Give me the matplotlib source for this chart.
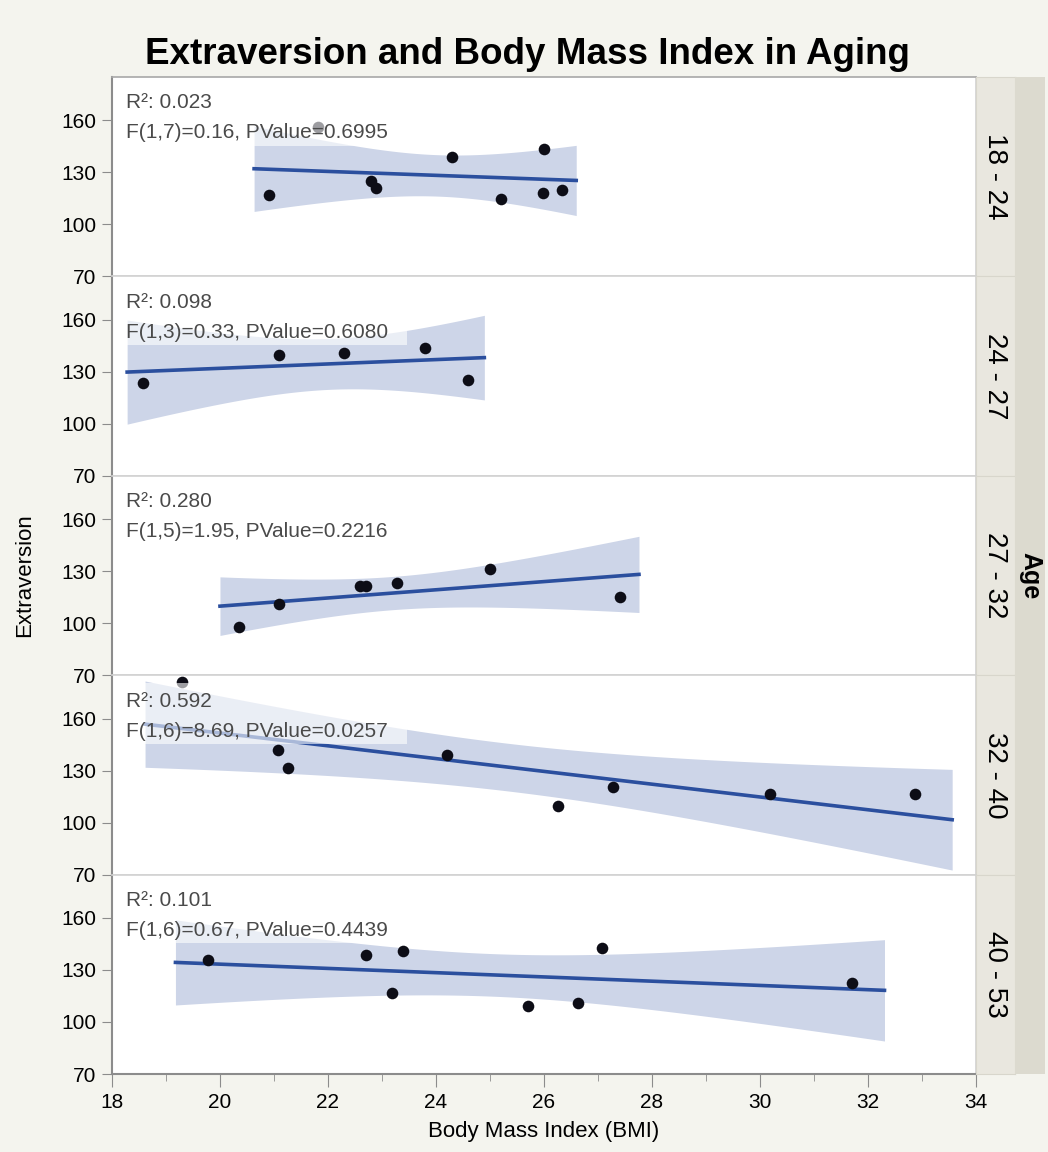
import numpy as np
import matplotlib.pyplot as plt
from matplotlib.patches import Rectangle
from matplotlib.ticker import MultipleLocator

# BMI vs extraversion, split by age group
age_groups = ['18 - 24', '24 - 27', '27 - 32', '32 - 40', '40 - 53']

bmi_18_24 = [20.91, 21.83, 22.81, 22.89, 24.31, 25.20, 26.00, 25.98, 26.33]
ext_18_24 = [117.0, 155.9, 125.2, 121.1, 139.1, 114.7, 143.2, 118.2, 119.9]

bmi_24_27 = [18.59, 21.10, 22.30, 23.81, 24.60]
ext_24_27 = [123.4, 139.7, 140.6, 143.8, 125.5]

bmi_27_32 = [20.36, 21.10, 22.60, 22.71, 23.29, 25.00, 27.41]
ext_27_32 = [98.0, 111.2, 121.3, 121.3, 123.4, 131.2, 115.3]

bmi_32_40 = [19.30, 21.09, 21.26, 24.21, 26.27, 27.29, 30.18, 32.88]
ext_32_40 = [181.0, 141.9, 131.7, 139.0, 109.8, 120.4, 116.6, 116.3]

bmi_40_53 = [19.78, 22.71, 23.19, 23.40, 25.70, 26.63, 27.08, 31.71]
ext_40_53 = [135.8, 138.8, 116.7, 140.7, 109.5, 110.7, 142.6, 122.7]

bmi = [bmi_18_24, bmi_24_27, bmi_27_32, bmi_32_40, bmi_40_53]
ext = [ext_18_24, ext_24_27, ext_27_32, ext_32_40, ext_40_53]

r2_text = ['R²: 0.023', 'R²: 0.098', 'R²: 0.280', 'R²: 0.592', 'R²: 0.101']
f_text = ['F(1,7)=0.16, PValue=0.6995', 'F(1,3)=0.33, PValue=0.6080',
          'F(1,5)=1.95, PValue=0.2216', 'F(1,6)=8.69, PValue=0.0257',
          'F(1,6)=0.67, PValue=0.4439']

yticks = [70, 100, 130, 160]
xticks = [18, 20, 22, 24, 26, 28, 30, 32, 34]

# two-sided 95% t quantiles by residual df
t95 = {3: 3.182, 5: 2.571, 6: 2.447, 7: 2.365}

BG = '#f4f4ee'
LINE = '#2b4f9e'
BAND = '#cdd5e8'
GRAY = '#8c8c8c'
LIGHT = '#d2d2d2'
TXT = '#4a4a4a'

plt.rcParams['font.family'] = ['Liberation Sans', 'DejaVu Sans']


def fit_band(x, y):
    x = np.asarray(x, float)
    y = np.asarray(y, float)
    n = len(x)
    b, a = np.polyfit(x, y, 1)
    span = x.max() - x.min()
    xs = np.linspace(x.min() - 0.05 * span, x.max() + 0.05 * span, 200)
    yhat = a + b * xs
    s = np.sqrt(np.sum((y - (a + b * x)) ** 2) / (n - 2))
    sxx = np.sum((x - x.mean()) ** 2)
    half = t95[n - 2] * s * np.sqrt(1.0 / n + (xs - x.mean()) ** 2 / sxx)
    return xs, yhat, half


W, H = 1048, 1152
fig = plt.figure(figsize=(W / 100, H / 100), dpi=100, facecolor=BG)

left, right = 111.5 / W, 976 / W
top, bottom = 1 - 77 / H, 1 - 1074 / H
ph = (top - bottom) / 5
sw = 39 / W

for i in range(5):
    y0 = top - (i + 1) * ph
    ax = fig.add_axes([left, y0, right - left, ph])
    ax.set_facecolor('white')

    xs, yhat, half = fit_band(bmi[i], ext[i])
    ax.fill_between(xs, yhat - half, yhat + half, color=BAND, lw=0, zorder=1)
    ax.plot(xs, yhat, color=LINE, lw=2.6, zorder=2)
    ax.scatter(bmi[i], ext[i], s=70, color='#0d0d16', zorder=3, lw=0)

    # translucent label box over the fit
    ax.add_patch(Rectangle((0.005, 0.655), 0.337, 0.305, transform=ax.transAxes,
                           facecolor='white', alpha=0.6, lw=0, zorder=4))
    ax.text(0.017, 0.87, r2_text[i], transform=ax.transAxes, fontsize=15,
            color=TXT, va='center', zorder=5)
    ax.text(0.017, 0.72, f_text[i], transform=ax.transAxes, fontsize=15,
            color=TXT, va='center', zorder=5)

    ax.set_xlim(18, 34)
    ax.set_ylim(70, 185)
    ax.set_yticks(yticks)
    ax.tick_params(axis='y', direction='out', length=7, color=GRAY,
                   labelsize=15, pad=4)
    for side in ['top', 'right', 'bottom']:
        ax.spines[side].set_color(LIGHT)
        ax.spines[side].set_linewidth(1.2)
    ax.spines['left'].set_color(GRAY)
    ax.spines['left'].set_linewidth(1.5)
    if i == 0:
        ax.spines['top'].set_color('#a8a8a8')

    if i == 4:
        ax.set_xticks(xticks)
        ax.xaxis.set_minor_locator(MultipleLocator(1))
        ax.tick_params(axis='x', which='major', direction='out', length=9,
                       color=GRAY, labelsize=15, pad=5)
        ax.tick_params(axis='x', which='minor', direction='out', length=5,
                       color=GRAY)
        ax.spines['bottom'].set_color(GRAY)
        ax.spines['bottom'].set_linewidth(1.5)
        ax.set_xlabel('Body Mass Index (BMI)', fontsize=16, labelpad=6)
    else:
        ax.set_xticks([])

    # facet strip on the right
    sax = fig.add_axes([right, y0, sw, ph])
    sax.set_facecolor('#e9e7df')
    sax.set_xticks([])
    sax.set_yticks([])
    for sp in sax.spines.values():
        sp.set_color('#d8d6cc')
    sax.text(0.5, 0.5, age_groups[i], rotation=-90, ha='center', va='center',
             fontsize=20, transform=sax.transAxes)

# grouping band with the "Age" header
gax = fig.add_axes([right + sw, bottom, 1 - right - sw - 3 / W, top - bottom])
gax.set_facecolor('#dcdacf')
gax.set_xticks([])
gax.set_yticks([])
for sp in gax.spines.values():
    sp.set_visible(False)
gax.text(0.5, 0.5, 'Age', rotation=-90, ha='center', va='center', fontsize=18,
         weight='bold', transform=gax.transAxes)

fig.text(25 / W, (top + bottom) / 2, 'Extraversion', rotation=90, ha='center',
         va='center', fontsize=16)
fig.text(527 / W, 1 - 55 / H, 'Extraversion and Body Mass Index in Aging',
         ha='center', va='center', fontsize=26.5, weight='bold')

fig.savefig('out.png', dpi=100, facecolor=BG)
